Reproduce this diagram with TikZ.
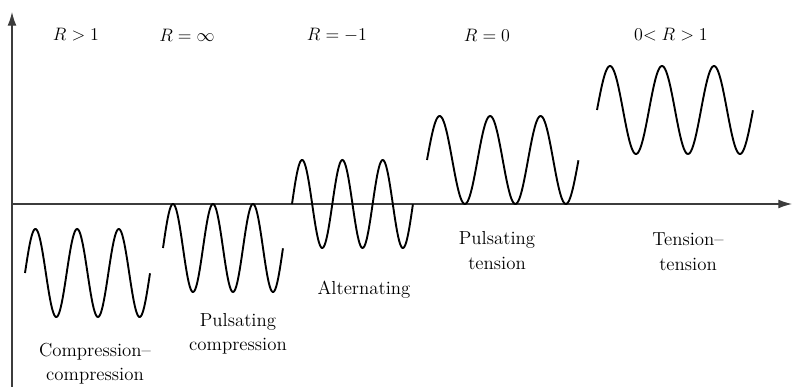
\RequirePackage{fix-cm}
\documentclass[tikz,border=0pt]{standalone}
\usepackage{amsmath}
\usepackage{tikz}
\usepackage{xcolor}
\usetikzlibrary{arrows.meta}
\definecolor{axisGray}{RGB}{60,60,60}

\begin{document}
\begin{tikzpicture}[
  axisline/.style={draw=axisGray, line width=0.8pt,
                   -{Latex[length=3.4mm,width=2.2mm]}},
  wave/.style={draw=black, line width=1.35pt},
  regime/.style={align=center, font=\fontsize{13.4}{17.5}\selectfont},
  rval/.style={font=\fontsize{12.8}{15}\selectfont},
]
  \useasboundingbox (-0.3,-4.575) rectangle (19.525,5.1);

  % axes
  \coordinate (origin) at (0,0);
  \coordinate (ybot) at (0,-4.575);
  \coordinate (ytip) at (0,4.8);
  \coordinate (xtip) at (19.5,0);
  \draw[axisline] (ybot) -- (ytip);
  \draw[axisline] (origin) -- (xtip);

  % the five load cycles
  \foreach \xs/\per/\mid in {0.325/1.042/-1.725, 3.775/1.0/-1.1,
                             7.0/1.008/0, 10.375/1.2625/1.1,
                             14.625/1.3/2.35}
    \draw[wave] plot[domain=0:3, samples=150, smooth]
      ({\xs+\per*\x}, {\mid+1.1*sin(360*\x)});

  % stress ratios
  \node[rval] (rgt1) at (1.6,4.225) {$R > 1$};
  \node[rval] (rinf) at (4.375,4.225) {$R = \infty$};
  \node[rval] (rneg) at (8.125,4.225) {$R = -1$};
  \node[rval] (rzero) at (11.875,4.225) {$R = 0$};
  \node[rval] (rpos) at (16.475,4.225) {$0{<}\;R > 1$};

  % regimes
  \node[regime] (cc) at (2.075,-3.99) {Compression--\\compression};
  \node[regime] (pc) at (5.65,-3.24) {Pulsating\\compression};
  \node[regime] (alt) at (8.8,-2.15) {Alternating};
  \node[regime] (pt) at (12.125,-1.16) {Pulsating\\tension};
  \node[regime] (tt) at (16.9,-1.19) {Tension--\\tension};
\end{tikzpicture}
\end{document}
